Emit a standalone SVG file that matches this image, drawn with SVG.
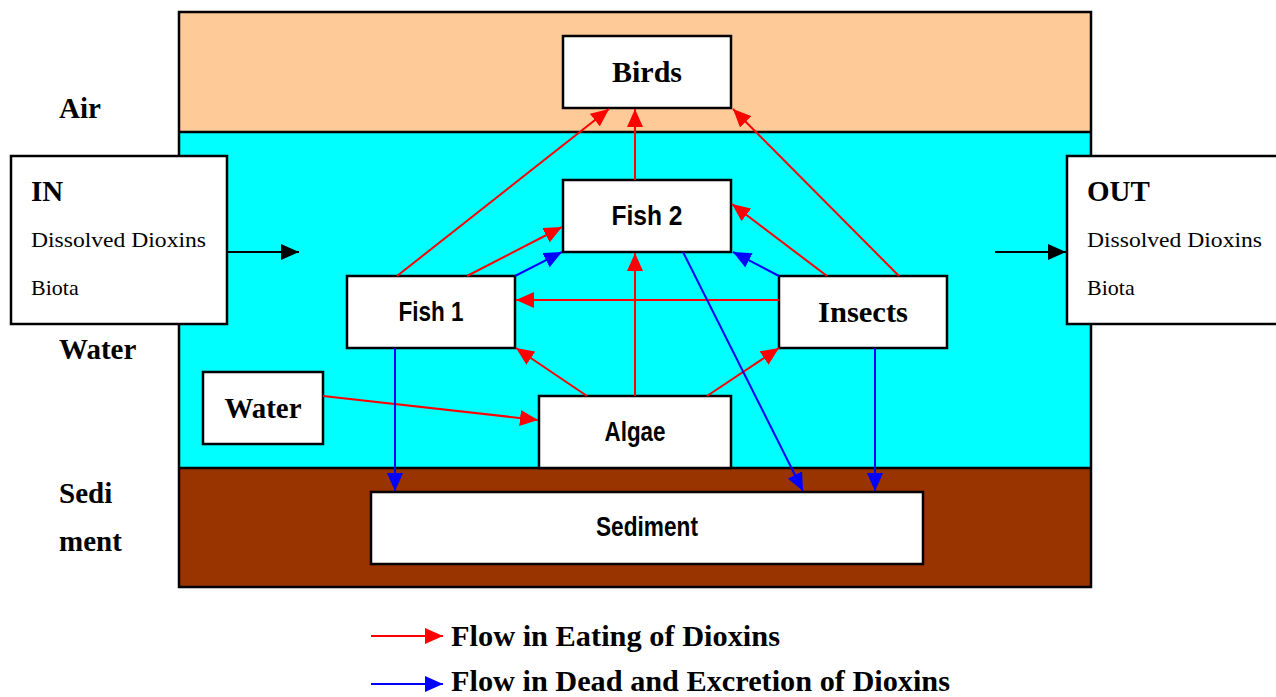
<svg xmlns="http://www.w3.org/2000/svg" width="1276" height="697" viewBox="0 0 1276 697">
<style>
.box{fill:#fff;stroke:#000;stroke-width:2.5}
.hd{font-family:"Liberation Serif",serif;font-weight:bold;font-size:29px;fill:#000}
.sm{font-family:"Liberation Serif",serif;font-size:22px;fill:#000}
.ss{font-family:"Liberation Sans",Arial,sans-serif;font-weight:bold;font-size:27px;fill:#000}
.lg{font-family:"Liberation Serif",serif;font-weight:bold;font-size:29px;fill:#000}
.r{stroke:#f00;stroke-width:2;fill:none;marker-end:url(#mr)}
.b{stroke:#00f;stroke-width:2;fill:none;marker-end:url(#mb)}
.k{stroke:#000;stroke-width:2;fill:none;marker-end:url(#mk)}
</style>
<defs>
<marker id="mr" markerUnits="userSpaceOnUse" markerWidth="20" markerHeight="16" refX="18" refY="8" orient="auto"><path d="M0,0 L18,8 L0,16 Z" fill="#f00"/></marker>
<marker id="mb" markerUnits="userSpaceOnUse" markerWidth="20" markerHeight="16" refX="18" refY="8" orient="auto"><path d="M0,0 L18,8 L0,16 Z" fill="#00f"/></marker>
<marker id="mk" markerUnits="userSpaceOnUse" markerWidth="20" markerHeight="16" refX="18" refY="8" orient="auto"><path d="M0,0 L18,8 L0,16 Z" fill="#000"/></marker>
</defs>
<rect width="1276" height="697" fill="#fff"/>
<g id="zones">
<rect x="179" y="12" width="912" height="120" fill="#FECB98"/>
<rect x="179" y="132" width="912" height="336" fill="#00FFFF"/>
<rect x="179" y="468" width="912" height="119" fill="#993300"/>
<line x1="179" y1="132" x2="1091" y2="132" stroke="#000" stroke-width="2.5"/>
<line x1="179" y1="468" x2="1091" y2="468" stroke="#000" stroke-width="2.5"/>
<rect x="179" y="12" width="912" height="575" fill="none" stroke="#000" stroke-width="2.5"/>
<text class="hd" x="59" y="118">Air</text>
<text class="hd" x="59" y="359">Water</text>
<text class="hd" x="59" y="503">Sedi</text>
<text class="hd" x="59" y="551">ment</text>
</g>
<g id="in">
<rect class="box" x="11" y="156" width="216" height="168"/>
<text class="hd" x="31" y="201">IN</text>
<text class="sm" x="31" y="247" textLength="175" lengthAdjust="spacingAndGlyphs">Dissolved Dioxins</text>
<text class="sm" x="31" y="295">Biota</text>
</g>
<g id="out">
<rect class="box" x="1067" y="156" width="230" height="168"/>
<text class="hd" x="1087" y="201">OUT</text>
<text class="sm" x="1087" y="247" textLength="175" lengthAdjust="spacingAndGlyphs">Dissolved Dioxins</text>
<text class="sm" x="1087" y="295">Biota</text>
</g>
<g id="birds">
<rect class="box" x="563" y="36" width="168" height="72"/>
<text class="hd" x="647" y="82" text-anchor="middle" textLength="70" lengthAdjust="spacingAndGlyphs">Birds</text>
</g>
<g id="fish2">
<rect class="box" x="563" y="180" width="168" height="72"/>
<text class="ss" x="647" y="225" text-anchor="middle" textLength="71" lengthAdjust="spacingAndGlyphs">Fish 2</text>
</g>
<g id="fish1">
<rect class="box" x="347" y="276" width="168" height="72"/>
<text class="ss" x="431" y="321" text-anchor="middle" textLength="65" lengthAdjust="spacingAndGlyphs">Fish 1</text>
</g>
<g id="insects">
<rect class="box" x="779" y="276" width="168" height="72"/>
<text class="hd" x="863" y="322" text-anchor="middle" textLength="90" lengthAdjust="spacingAndGlyphs">Insects</text>
</g>
<g id="water">
<rect class="box" x="203" y="372" width="120" height="72"/>
<text class="hd" x="263" y="418" text-anchor="middle" textLength="77" lengthAdjust="spacingAndGlyphs">Water</text>
</g>
<g id="algae">
<rect class="box" x="539" y="396" width="192" height="72"/>
<text class="ss" x="635" y="441" text-anchor="middle" textLength="61" lengthAdjust="spacingAndGlyphs">Algae</text>
</g>
<g id="sediment">
<rect class="box" x="371" y="492" width="552" height="72"/>
<text class="ss" x="647" y="536" text-anchor="middle" textLength="102" lengthAdjust="spacingAndGlyphs">Sediment</text>
</g>
<g id="connectors">
<line class="k" x1="227" y1="252" x2="299" y2="252"/>
<line class="k" x1="995" y1="252" x2="1066" y2="252"/>
<line class="r" x1="397" y1="276" x2="609" y2="109"/>
<line class="r" x1="635" y1="180" x2="635" y2="109"/>
<line class="r" x1="899" y1="276" x2="733" y2="109"/>
<line class="r" x1="467" y1="276" x2="562" y2="227"/>
<line class="r" x1="827" y1="276" x2="732" y2="204"/>
<line class="r" x1="779" y1="300" x2="516" y2="300"/>
<line class="r" x1="635" y1="396" x2="635" y2="253"/>
<line class="r" x1="587" y1="396" x2="516" y2="348"/>
<line class="r" x1="707" y1="396" x2="779" y2="348"/>
<line class="r" x1="323" y1="396" x2="538" y2="420"/>
<line class="b" x1="515" y1="276" x2="562" y2="252"/>
<line class="b" x1="779" y1="276" x2="733" y2="252"/>
<line class="b" x1="395" y1="348" x2="395" y2="491"/>
<line class="b" x1="683" y1="252" x2="803" y2="491"/>
<line class="b" x1="875" y1="348" x2="875" y2="491"/>
</g>
<g id="legend">
<line class="r" x1="371" y1="636" x2="443" y2="636"/>
<text class="lg" x="451" y="646" textLength="329" lengthAdjust="spacingAndGlyphs">Flow in Eating of Dioxins</text>
<line class="b" x1="371" y1="684" x2="443" y2="684"/>
<text class="lg" x="451" y="691" textLength="499" lengthAdjust="spacingAndGlyphs">Flow in Dead and Excretion of Dioxins</text>
</g>
</svg>
